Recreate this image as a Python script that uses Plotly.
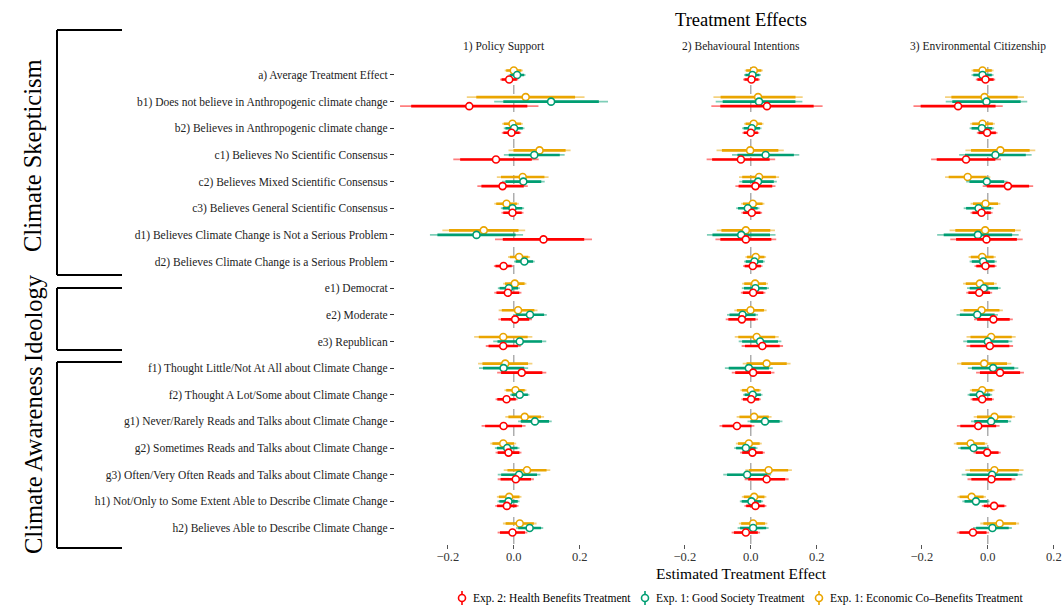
import plotly.graph_objects as go

# ---------------------------------------------------------------- data
categories = [
    "a) Average Treatment Effect",
    "b1) Does not believe in Anthropogenic climate change",
    "b2) Believes in Anthropogenic climate change",
    "c1) Believes No Scientific Consensus",
    "c2) Believes Mixed Scientific Consensus",
    "c3) Believes General Scientific Consensus",
    "d1) Believes Climate Change is Not a Serious Problem",
    "d2) Believes Climate Change is a Serious Problem",
    "e1) Democrat",
    "e2) Moderate",
    "e3) Republican",
    "f1) Thought Little/Not At All about Climate Change",
    "f2) Thought A Lot/Some about Climate Change",
    "g1) Never/Rarely Reads and Talks about Climate Change",
    "g2) Sometimes Reads and Talks about Climate Change",
    "g3) Often/Very Often Reads and Talks about Climate Change",
    "h1) Not/Only to Some Extent Able to Describe Climate Change",
    "h2) Believes Able to Describe Climate Change",
]

outcomes = ["1) Policy Support", "2) Behavioural Intentions", "3) Environmental Citizenship"]
treatments = [
    "Exp. 2: Health Benefits Treatment",
    "Exp. 1: Good Society Treatment",
    "Exp. 1: Economic Co\u2013Benefits Treatment",
]

# 1) Policy Support: estimates and standard errors
policy_health_est = [-0.014, -0.135, -0.007, -0.054, -0.034, -0.004, 0.090, -0.031, -0.018,
                     0.004, -0.032, 0.024, -0.022, -0.031, -0.016, 0.006, -0.021, -0.004]
policy_health_se = [0.014, 0.107, 0.015, 0.066, 0.039, 0.017, 0.075, 0.015, 0.021,
                    0.026, 0.027, 0.038, 0.017, 0.034, 0.020, 0.028, 0.018, 0.023]
policy_good_est = [0.010, 0.113, 0.001, 0.062, 0.029, -0.004, -0.113, 0.032, -0.015,
                   0.049, 0.018, -0.031, 0.018, 0.064, -0.020, 0.016, -0.016, 0.048]
policy_good_se = [0.013, 0.088, 0.016, 0.047, 0.033, 0.018, 0.072, 0.016, 0.017,
                  0.026, 0.041, 0.038, 0.015, 0.026, 0.019, 0.033, 0.017, 0.021]
policy_econ_est = [0.000, 0.036, -0.004, 0.078, 0.027, -0.022, -0.091, 0.016, 0.003,
                   0.013, -0.032, -0.026, 0.005, 0.033, -0.032, 0.040, -0.014, 0.018]
policy_econ_se = [0.014, 0.091, 0.016, 0.048, 0.040, 0.019, 0.064, 0.017, 0.018,
                  0.030, 0.045, 0.042, 0.017, 0.030, 0.020, 0.036, 0.019, 0.026]

# 2) Behavioural Intentions
behav_health_est = [0.002, 0.049, 0.000, -0.030, 0.014, 0.003, -0.015, 0.006, 0.007,
                    -0.027, 0.035, 0.007, 0.001, -0.042, 0.005, 0.048, 0.014, -0.015]
behav_health_se = [0.013, 0.086, 0.013, 0.053, 0.031, 0.016, 0.047, 0.015, 0.019,
                   0.025, 0.032, 0.033, 0.015, 0.027, 0.019, 0.034, 0.017, 0.022]
behav_good_est = [0.005, 0.025, 0.003, 0.045, 0.022, -0.009, -0.029, 0.011, 0.014,
                  -0.025, 0.028, -0.006, 0.006, 0.043, -0.015, -0.011, 0.002, 0.007]
behav_good_se = [0.013, 0.067, 0.015, 0.052, 0.029, 0.018, 0.053, 0.016, 0.021,
                 0.024, 0.033, 0.037, 0.015, 0.027, 0.018, 0.037, 0.018, 0.024]
behav_econ_est = [0.009, 0.022, 0.009, -0.002, 0.025, 0.006, -0.015, 0.015, 0.013,
                  -0.001, 0.018, 0.048, 0.000, 0.010, -0.006, 0.054, 0.010, 0.007]
behav_econ_se = [0.014, 0.069, 0.015, 0.052, 0.031, 0.018, 0.045, 0.016, 0.020,
                 0.025, 0.034, 0.037, 0.016, 0.027, 0.020, 0.036, 0.019, 0.022]

# 3) Environmental Citizenship
citizen_health_est = [-0.007, -0.090, -0.002, -0.066, 0.061, -0.019, -0.004, -0.007, -0.026,
                      0.017, 0.006, 0.037, -0.017, -0.029, -0.002, 0.011, 0.019, -0.045]
citizen_health_se = [0.015, 0.069, 0.016, 0.054, 0.039, 0.017, 0.056, 0.017, 0.020,
                     0.030, 0.036, 0.037, 0.018, 0.033, 0.021, 0.037, 0.019, 0.025]
citizen_good_est = [-0.016, -0.004, -0.018, 0.023, -0.003, -0.028, -0.030, -0.014, -0.012,
                    -0.032, 0.000, 0.016, -0.024, 0.010, -0.043, 0.013, -0.036, 0.014]
citizen_good_se = [0.017, 0.063, 0.019, 0.056, 0.032, 0.023, 0.063, 0.021, 0.026,
                   0.032, 0.038, 0.039, 0.019, 0.031, 0.024, 0.047, 0.021, 0.030]
citizen_econ_est = [-0.016, -0.010, -0.016, 0.038, -0.061, -0.007, -0.008, -0.017, -0.024,
                    -0.019, 0.010, -0.011, -0.017, 0.020, -0.052, 0.020, -0.049, 0.036]
citizen_econ_se = [0.017, 0.061, 0.019, 0.054, 0.035, 0.023, 0.055, 0.021, 0.026,
                   0.033, 0.038, 0.042, 0.019, 0.032, 0.026, 0.045, 0.022, 0.030]

# group name, bracket top/bottom and label centre (pixels)
groups = [("Climate Skepticism", 30, 275, 156), ("Ideology", 288, 350, 318),
          ("Climate Awareness", 362, 548, 460)]

# ---------------------------------------------------------------- styling
W, H = 1062, 608
FONT = "Liberation Serif"
colors = ["#FF0000", "#009E73", "#EAA500"]
offsets = [0.17, 0.0, -0.17]          # red below, teal centre, yellow above
Z95, Z90 = 1.96, 1.645

results = [
    [(policy_health_est, policy_health_se), (policy_good_est, policy_good_se), (policy_econ_est, policy_econ_se)],
    [(behav_health_est, behav_health_se), (behav_good_est, behav_good_se), (behav_econ_est, behav_econ_se)],
    [(citizen_health_est, citizen_health_se), (citizen_good_est, citizen_good_se), (citizen_econ_est, citizen_econ_se)],
]


def px(x):
    return x / W


def py(y):
    return 1 - y / H


def label(text, x, y, size, angle=0, xanchor="center", color="black"):
    return dict(text=text, x=px(x), y=py(y), xref="paper", yref="paper",
                xanchor=xanchor, yanchor="middle", showarrow=False, textangle=angle,
                font=dict(family=FONT, size=size, color=color))


# panel placement in pixels (330 px per unit of effect)
x_ranges = [[-0.36, 0.30], [-0.36, 0.30], [-0.36, 0.2248]]
x_domains = [[px(395), px(612.8)], [px(632), px(849.8)], [px(869), 1.0]]
strip_centres = [504, 741, 978]
y_domain = [py(544), py(59)]

fig = go.Figure()

for p in range(3):
    xa = "x" if p == 0 else f"x{p + 1}"
    ya = "y" if p == 0 else f"y{p + 1}"
    for s in [2, 1, 0]:
        est, se = results[p][s]
        ypos = [i + offsets[s] for i in range(len(categories))]
        for z, width, opac in [(Z95, 1.8, 0.5), (Z90, 2.6, 1.0)]:
            xs, ys = [], []
            for e, sd, yy in zip(est, se, ypos):
                xs += [e - z * sd, e + z * sd, None]
                ys += [yy, yy, None]
            fig.add_trace(go.Scatter(
                x=xs, y=ys, mode="lines", xaxis=xa, yaxis=ya,
                line=dict(color=colors[s], width=width), opacity=opac,
                showlegend=False, hoverinfo="skip"))
        fig.add_trace(go.Scatter(
            x=est, y=ypos, mode="markers", xaxis=xa, yaxis=ya,
            marker=dict(symbol="circle", size=7, color="white",
                        line=dict(color=colors[s], width=1.6)),
            name=treatments[s], showlegend=False))

shapes = []
annotations = []

# dashed zero reference lines and facet strip titles
for p in range(3):
    xa = "x" if p == 0 else f"x{p + 1}"
    shapes.append(dict(type="line", xref=xa, yref="paper", x0=0, x1=0,
                       y0=y_domain[0], y1=y_domain[1],
                       line=dict(color="#9A9A9A", width=1.2, dash="dash"), layer="below"))
    annotations.append(label(outcomes[p], strip_centres[p], 47, 11.5, color="#1A1A1A"))

# group brackets on the left
for text, top, bot, centre in groups:
    for seg in [(57, top, 57, bot), (57, top, 122, top), (57, bot, 122, bot)]:
        shapes.append(dict(type="line", xref="paper", yref="paper",
                           x0=px(seg[0]), y0=py(seg[1]), x1=px(seg[2]), y1=py(seg[3]),
                           line=dict(color="black", width=2)))
    annotations.append(label(text, 33, centre, 24.5, angle=-90))

# legend drawn as point-range glyphs
legend_x = [462, 645, 819]
for s in range(3):
    cx, cy = legend_x[s], 598
    shapes.append(dict(type="line", xref="paper", yref="paper",
                       x0=px(cx), x1=px(cx), y0=py(591), y1=py(605),
                       line=dict(color=colors[s], width=1.6)))
    shapes.append(dict(type="circle", xref="paper", yref="paper",
                       x0=px(cx - 3.5), x1=px(cx + 3.5), y0=py(cy + 3.5), y1=py(cy - 3.5),
                       fillcolor="white", line=dict(color=colors[s], width=1.6)))
    annotations.append(label(treatments[s], cx + 9, cy, 11.5, xanchor="left"))

annotations.append(label("Treatment Effects", 741, 20, 18.5))
annotations.append(label("Estimated Treatment Effect", 741, 573, 15.5))

layout = dict(
    width=W, height=H, margin=dict(l=0, r=0, t=0, b=0),
    paper_bgcolor="white", plot_bgcolor="white",
    font=dict(family=FONT, color="#222"),
    shapes=shapes, annotations=annotations, showlegend=False,
)

for p in range(3):
    key = "xaxis" if p == 0 else f"xaxis{p + 1}"
    layout[key] = dict(
        domain=x_domains[p], range=x_ranges[p], anchor="y" if p == 0 else f"y{p + 1}",
        tickvals=[-0.2, 0.0, 0.2], ticktext=["\u22120.2", "0.0", "0.2"],
        ticks="outside", ticklen=4, tickwidth=1, tickcolor="#555",
        ticklabelstandoff=-3,
        showgrid=False, zeroline=False, showline=False,
        tickfont=dict(family=FONT, size=12.5, color="#333"),
    )
    ykey = "yaxis" if p == 0 else f"yaxis{p + 1}"
    ydef = dict(
        domain=y_domain, range=[len(categories) - 0.4, -0.6],
        anchor="x" if p == 0 else f"x{p + 1}",
        showgrid=False, zeroline=False, showline=False,
    )
    if p == 0:
        ydef.update(tickvals=list(range(len(categories))), ticktext=categories,
                    ticks="outside", ticklen=4, tickwidth=1, tickcolor="#333",
                    tickfont=dict(family=FONT, size=11.5, color="#222"))
    else:
        ydef.update(matches="y", showticklabels=False, ticks="")
    layout[ykey] = ydef

fig.update_layout(**layout)
fig.write_html("out.html")
